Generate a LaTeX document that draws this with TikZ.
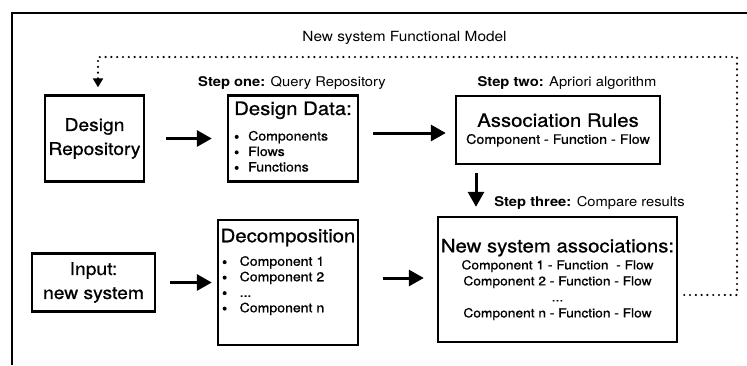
\documentclass[tikz,border=0pt]{standalone}
\usepackage{fontspec}
\setmainfont[FakeStretch=1.1]{TeX Gyre Heros}
\newfontfamily\medfont[FakeStretch=1.1,FakeBold=0.8]{TeX Gyre Heros}
\usetikzlibrary{arrows.meta,calc}
\newcommand\HeadFont{\medfont\fontsize{18.5}{22}\selectfont}
\newcommand\ItemFont{\medfont\fontsize{12.8}{15.5}\selectfont}
\newcommand\BigDot{\tikz[baseline=0pt]\fill[black] (2pt,3.6pt) circle[radius=2pt];}
\newcommand\BulA{\makebox[14pt][l]{\hspace{0.5pt}\BigDot}}
\newcommand\BulB{\makebox[19pt][l]{\hspace{2pt}\BigDot}}
\begin{document}
\begin{tikzpicture}[x=1pt,y=-1pt,
  box/.style={draw=black,line width=2.4pt,rectangle,inner sep=0pt},
  bigarrow/.style={line width=3pt,-{Triangle[length=15pt,width=16pt]}},
  dotline/.style={line width=2.4pt,line cap=round,dash pattern=on 0pt off 5.8pt,
    -{Triangle[length=9pt,width=10pt]}},
  steplabel/.style={font=\fontsize{13.4}{16}\selectfont,inner sep=0pt},
]
\useasboundingbox (0,0) rectangle (747,365);
% frame (right and bottom edges lie outside the picture)
\draw[line width=1.4pt] (747,13) -- (12,13) -- (12,365);

% boxes
\node[box,minimum width=99pt,minimum height=86pt,align=center,
  font=\medfont\fontsize{17.5}{24}\selectfont] (repo) at (94.5,138.5) {Design\\Repository};
\node[box,minimum width=130pt,minimum height=86pt,align=left,font=\ItemFont] (data) at (293,138.5)
  {{\HeadFont Design Data:}\\[10pt]\BulA Components\\\BulA Flows\\\BulA Functions\rule[-4pt]{0pt}{4pt}};
\node[box,minimum width=204pt,minimum height=68pt,align=center,
  font=\medfont\fontsize{13}{16}\selectfont] (assoc) at (558,130)
  {{\HeadFont Association Rules}\\[1pt]Component - Function - Flow};
\node[box,minimum width=123pt,minimum height=58pt,align=center,
  font=\medfont\fontsize{17.5}{24}\selectfont] (input) at (93.5,282.5) {Input:\\new system};
\node[box,minimum width=140pt,minimum height=125pt,align=left,font=\ItemFont] (decomp) at (288,282.5)
  {{\medfont\fontsize{18.5}{22}\selectfont Decomposition}\\[8pt]\BulB Component 1\\\BulB Component 2\\\BulB ...\\\BulB Component n\rule[-24pt]{0pt}{24pt}};
\node[box,minimum width=239pt,minimum height=125pt,align=center,
  font=\medfont\fontsize{12.5}{16}\selectfont] (newsys) at (557.5,279.5)
  {{\HeadFont New system associations:}\\[1pt]Component 1 - Function\ \ - Flow\\Component 2 - Function - Flow\\...\\Component n - Function - Flow};

% labels
\node[font=\fontsize{14}{16}\selectfont,inner sep=0pt] (title) at (404.5,38) {New system Functional Model};
\node[steplabel] (s1) at (292,83) {\textbf{Step one:} Query Repository};
\node[steplabel] (s2) at (567,83) {\textbf{Step two:} Apriori algorithm};
\node[steplabel] (s3) at (589.5,203) {\textbf{Step three:} Compare results};

% connectors
\draw[bigarrow] ([xshift=21pt]repo.east) -- ([xshift=-15pt]data.west);
\coordinate (a1) at ($(data.east)+(14,-5.5)$);
\draw[bigarrow] (a1) -- ($(assoc.west |- a1)+(-9,0)$);
\coordinate (x476) at (476,0);
\draw[bigarrow] ($(assoc.south -| x476)+(0,8)$) -- ($(newsys.north -| x476)+(0,-9)$);
\draw[bigarrow] ([xshift=14pt]input.east) -- ([xshift=-5pt]decomp.west);
\draw[bigarrow] ($(decomp.east |- newsys.west)+(24,-1.5)$) -- ($(newsys.west)+(-13,-1.5)$);

% feedback loop
\coordinate (fbR) at (737,57);
\coordinate (fbS) at ($(newsys.east)+(6,15.5)$);
\coordinate (fbE) at ($(repo.north)+(3.5,-7)$);
\draw[dotline] (fbS) -- (fbS -| fbR) -- (fbR) -- (fbR -| fbE) -- (fbE);
\end{tikzpicture}
\end{document}
